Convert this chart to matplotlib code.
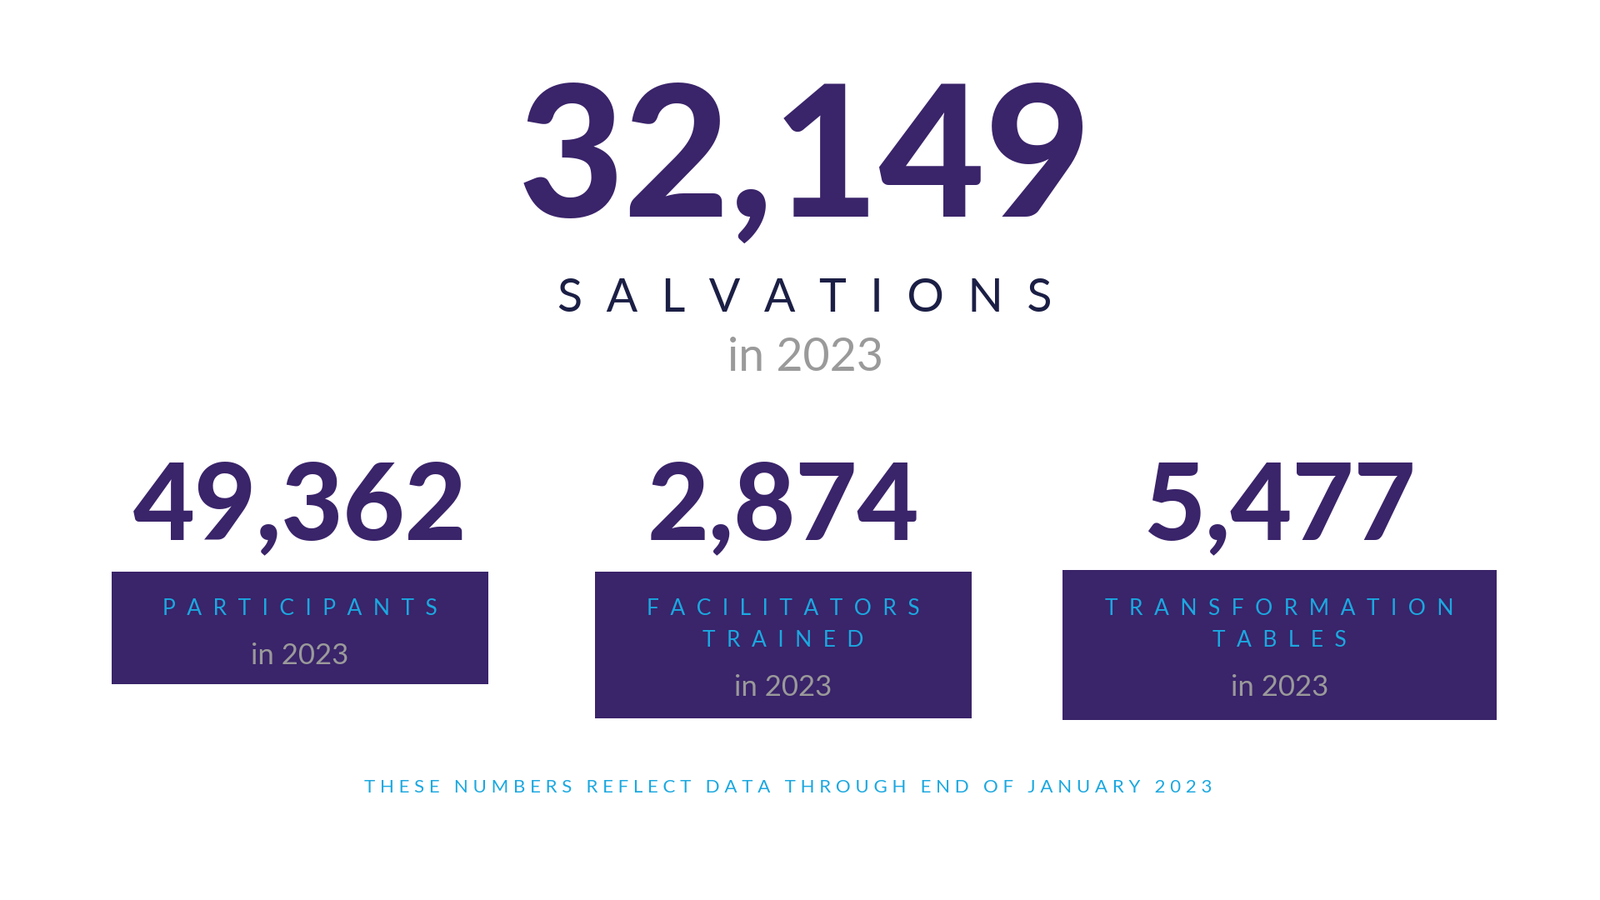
import matplotlib
matplotlib.use("Agg")
import matplotlib.pyplot as plt
from matplotlib.patches import Rectangle

W, H = 1560, 880
main_value = "32,149"
main_label = "SALVATIONS"
year_label = "in 2023"
values = ["49,362", "2,874", "5,477"]
labels = [["PARTICIPANTS"], ["FACILITATORS", "TRAINED"], ["TRANSFORMATION", "TABLES"]]
footer = "THESE NUMBERS REFLECT DATA THROUGH END OF JANUARY 2023"

PURPLE = "#3a246a"
NAVY = "#1c1f45"
GREY = "#9a9a9a"
CYAN = "#1ba8e0"
FONT = "Lato"

def sp(s, gap=" "):
    return gap.join(s)

fig = plt.figure(figsize=(19.2, 10.8), dpi=100)
fig.patch.set_facecolor("white")

def fx(x): return x / W
def fy(y): return 1 - y / H

fig.text(fx(785), fy(160), main_value, ha="center", va="center", fontsize=158,
         fontweight="heavy", family=FONT, color=PURPLE)
fig.text(fx(785), fy(292), sp(main_label, "  "), ha="center", va="center", fontsize=40,
         family=FONT, color=NAVY)
fig.text(fx(785), fy(350), year_label, ha="center", va="center", fontsize=40,
         family=FONT, color=GREY)

boxes = [(109, 559, 476, 669), (580, 559, 947, 702), (1036, 557, 1459, 704)]
for v, lab, (x0, y0, x1, y1) in zip(values, labels, boxes):
    cx = (x0 + x1) / 2
    fig.text(fx(cx), fy(497), v, ha="center", va="center", fontsize=92,
             fontweight="heavy", family=FONT, color=PURPLE)
    fig.patches.append(Rectangle((fx(x0), fy(y1)), fx(x1 - x0), (y1 - y0) / H,
                                 transform=fig.transFigure, facecolor=PURPLE,
                                 edgecolor="none"))
    y = 595
    for line in lab:
        fig.text(fx(cx), fy(y), sp(line, "  "), ha="center", va="center", fontsize=19,
                 family=FONT, color=CYAN)
        y += 31
    fig.text(fx(cx), fy(y + 15), year_label, ha="center", va="center", fontsize=25,
             family=FONT, color=GREY)

fig.text(fx(768), fy(770), sp(footer, " "), ha="center", va="center", fontsize=16,
         family=FONT, color=CYAN)

fig.savefig("out.png", dpi=100, facecolor="white")
